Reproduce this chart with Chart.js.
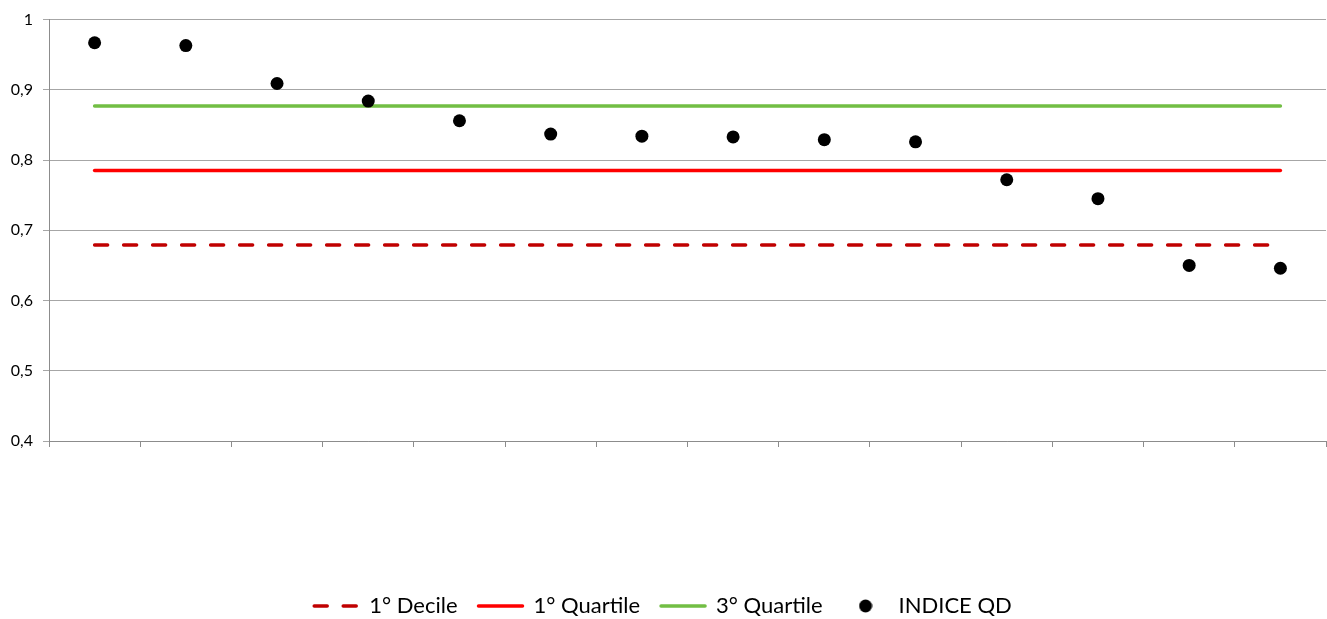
<!DOCTYPE html>
<html>
<head>
<meta charset="utf-8">
<script src="https://cdn.jsdelivr.net/npm/chart.js@4"></script>
<style>
  html, body { margin: 0; padding: 0; background: #fff; }
  #wrap { width: 1327px; height: 619px; }
</style>
</head>
<body>
<div id="wrap"><canvas id="qdChart" width="1327" height="619"></canvas></div>
<script>
// Categories (no visible labels on the x axis)
const categories = ["1", "2", "3", "4", "5", "6", "7", "8", "9", "10", "11", "12", "13", "14"];

// INDICE QD values
const indiceQD = [0.967, 0.963, 0.909, 0.884, 0.856, 0.837, 0.834, 0.833, 0.829, 0.826, 0.772, 0.745, 0.650, 0.646];

// Reference levels
const primoDecile = categories.map(() => 0.679);
const primoQuartile = categories.map(() => 0.785);
const terzoQuartile = categories.map(() => 0.877);

const yTicks = { min: 0.4, max: 1, step: 0.1 };

document.addEventListener("DOMContentLoaded", function () {
  const ctx = document.getElementById("qdChart").getContext("2d");

  // small round marker used for the INDICE QD legend entry
  const dot = document.createElement("canvas");
  dot.width = 14;
  dot.height = 14;
  const dctx = dot.getContext("2d");
  dctx.fillStyle = "#000";
  dctx.beginPath();
  dctx.arc(7, 7, 6.5, 0, Math.PI * 2);
  dctx.fill();

  const lineStyle = {
    borderWidth: 3.5,
    pointRadius: 0,
    pointHoverRadius: 0,
    pointStyle: "line",
    fill: false,
    borderCapStyle: "round",
    order: 1,
  };

  const config = {
    type: "line",
    data: {
      labels: categories,
      datasets: [
        Object.assign({}, lineStyle, {
          label: "1° Decile",
          data: primoDecile,
          borderColor: "#C00000",
          backgroundColor: "#C00000",
          borderDash: [13, 16],
        }),
        Object.assign({}, lineStyle, {
          label: "1° Quartile",
          data: primoQuartile,
          borderColor: "#FF0000",
          backgroundColor: "#FF0000",
        }),
        Object.assign({}, lineStyle, {
          label: "3° Quartile",
          data: terzoQuartile,
          borderColor: "#72BE44",
          backgroundColor: "#72BE44",
        }),
        {
          label: "INDICE QD",
          data: indiceQD,
          showLine: false,
          pointStyle: "circle",
          pointRadius: 6.5,
          pointHoverRadius: 6.5,
          pointBackgroundColor: "#000",
          pointBorderColor: "#000",
          pointBorderWidth: 0,
          borderColor: "#000",
          backgroundColor: "#000",
          order: 0,
        },
      ],
    },
    options: {
      responsive: false,
      animation: false,
      layout: {
        autoPadding: false,
        padding: { top: 17, right: 1, bottom: -8, left: 0 },
      },
      scales: {
        x: {
          offset: true,
          grid: {
            offset: true,
            drawOnChartArea: false,
            drawTicks: true,
            tickLength: 6,
            color: "#8c8c8c",
          },
          border: { color: "#8c8c8c" },
          ticks: { display: false },
          afterFit: function (scale) {
            scale.height = 133;
          },
        },
        y: {
          min: yTicks.min,
          max: yTicks.max,
          grid: {
            color: "#a6a6a6",
            tickLength: 6,
          },
          border: { color: "#8c8c8c" },
          ticks: {
            stepSize: yTicks.step,
            padding: 10,
            color: "#000",
            font: { family: "Lato", size: 16 },
            callback: function (value) {
              const v = Math.round(value * 10) / 10;
              return v === 1 ? "1" : v.toFixed(1).replace(".", ",");
            },
          },
          afterFit: function (scale) {
            scale.width = 49;
          },
        },
      },
      plugins: {
        tooltip: { enabled: false },
        legend: {
          position: "bottom",
          labels: {
            usePointStyle: true,
            pointStyleWidth: 44,
            padding: 21,
            color: "#000",
            font: { family: "Lato", size: 22 },
            sort: function (a, b) {
              return a.datasetIndex - b.datasetIndex;
            },
            generateLabels: function (chart) {
              const items = Chart.defaults.plugins.legend.labels.generateLabels(chart);
              items.forEach(function (item) {
                const ds = chart.data.datasets[item.datasetIndex];
                if (item.datasetIndex === 3) {
                  item.pointStyle = dot;
                } else {
                  item.lineDash = ds.borderDash || [];
                  item.lineWidth = ds.borderWidth;
                  item.lineCap = "round";
                  item.strokeStyle = ds.borderColor;
                }
              });
              return items;
            },
          },
        },
      },
    },
  };

  new Chart(ctx, config);
});
</script>
</body>
</html>
